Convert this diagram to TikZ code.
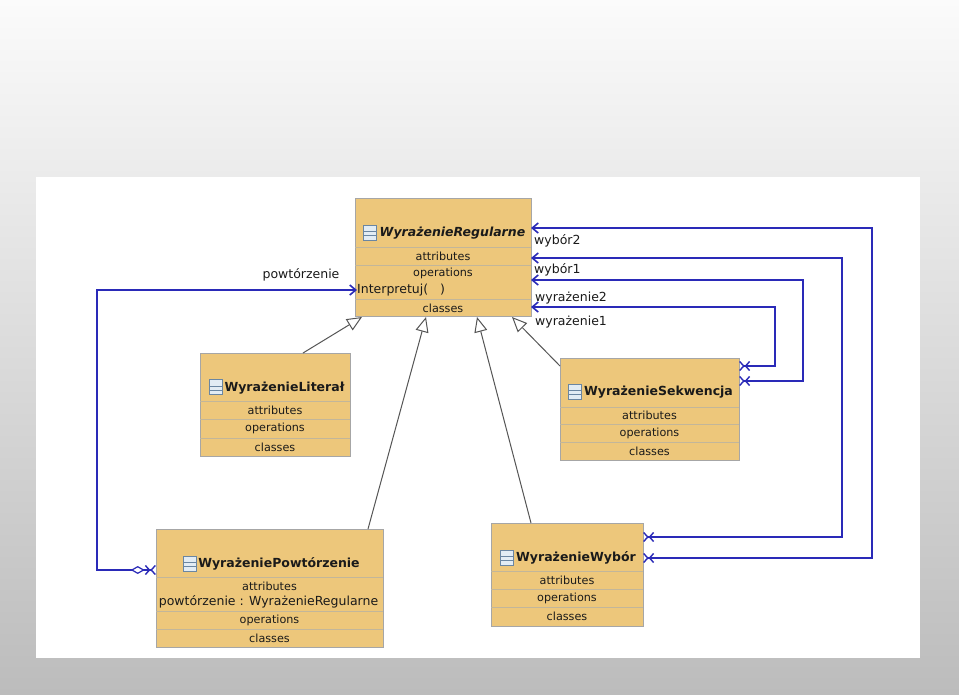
\documentclass[tikz,border=0pt]{standalone}
\usepackage{fontspec}
\setmainfont{DejaVu Sans}
\usetikzlibrary{arrows.meta,calc}
\definecolor{bgtop}{HTML}{FBFBFB}
\definecolor{bgbot}{HTML}{BCBCBC}
\definecolor{boxfill}{HTML}{EDC77B}
\definecolor{boxline}{HTML}{A6A6A6}
\definecolor{sepcol}{HTML}{C2B69A}
\definecolor{assocblue}{HTML}{2A2AB8}
\definecolor{genline}{HTML}{555555}
\definecolor{txt}{HTML}{1A1A1A}
\definecolor{icoline}{HTML}{6A86A2}
\definecolor{icofill}{HTML}{E2ECF4}
\newcommand{\cmpfont}{\fontsize{11.2}{12}\selectfont}
\newcommand{\memfont}{\fontsize{12.5}{14}\selectfont}
\newcommand{\nmfont}{\fontsize{12.5}{14}\selectfont\bfseries}
\begin{document}
\begin{tikzpicture}[x=1pt,y=-1pt,
  cls/.style={draw=boxline, fill=boxfill, line width=0.8pt, inner sep=0pt, rectangle},
  sepl/.style={draw=sepcol, line width=0.8pt},
  cmp/.style={font=\cmpfont, text=txt, inner sep=0pt},
  mem/.style={font=\memfont, text=txt, inner sep=0pt},
  nm/.style={font=\nmfont, text=txt, inner sep=0pt},
  lbl/.style={font=\memfont, text=txt, inner sep=0pt},
  ico/.style={draw=icoline, fill=icofill, line width=0.7pt, minimum width=13pt, minimum height=15pt, inner sep=0pt,
    path picture={
      \draw[icoline, line width=0.6pt] ($(path picture bounding box.south west)!0.30!(path picture bounding box.north west)$) -- ($(path picture bounding box.south east)!0.30!(path picture bounding box.north east)$);
      \draw[icoline, line width=0.6pt] ($(path picture bounding box.south west)!0.55!(path picture bounding box.north west)$) -- ($(path picture bounding box.south east)!0.55!(path picture bounding box.north east)$);
    }},
  assoc/.style={draw=assocblue, line width=1.3pt},
  gen/.style={draw=genline, line width=1pt, -{Triangle[fill=white,length=15pt,width=13pt,line width=1pt]}},
  xtip/.tip={Straight Barb[length=4pt,width=9pt,line width=1.4pt] Straight Barb[reversed,length=4pt,width=9pt,line width=1.4pt]},
  navtip/.tip={Straight Barb[length=6pt,width=10pt,line width=1.6pt]}
]
\useasboundingbox (0,0) rectangle (959,694);
\shade[top color=bgtop, bottom color=bgbot] (0,0) rectangle (959,694);
\fill[white] (36,177) rectangle (920,658);

% ---------- WyrazenieRegularne ----------
\node[cls, minimum width=176pt, minimum height=118pt] (reg) at (443,257.5) {};
\draw[sepl] (355,247) -- (531,247);
\draw[sepl] (355,265) -- (531,265);
\draw[sepl] (355,299) -- (531,299);
\node[ico] (regi) at (370,232.5) {};
\node[nm, font=\nmfont\itshape] (regn) at (452.5,233) {WyrażenieRegularne};
\node[cmp] (rega) at (443,256) {attributes};
\node[cmp] (rego) at (443,273) {operations};
\node[mem, anchor=west] (interp) at (357,290) {Interpretuj(\ \ \ )};
\node[cmp] (regc) at (443,308) {classes};

% ---------- WyrazenieLiteral ----------
\node[cls, minimum width=150pt, minimum height=103pt] (lit) at (275,404.5) {};
\draw[sepl] (200,401) -- (350,401);
\draw[sepl] (200,419) -- (350,419);
\draw[sepl] (200,438) -- (350,438);
\node[ico] (liti) at (215.5,387) {};
\node[nm] (litn) at (284.5,388) {WyrażenieLiterał};
\node[cmp] (lita) at (275,410) {attributes};
\node[cmp] (lito) at (275,428.5) {operations};
\node[cmp] (litc) at (275,447) {classes};

% ---------- WyrazenieSekwencja ----------
\node[cls, minimum width=179pt, minimum height=102pt] (sek) at (649.5,409) {};
\draw[sepl] (560,407) -- (739,407);
\draw[sepl] (560,424) -- (739,424);
\draw[sepl] (560,442) -- (739,442);
\node[ico] (seki) at (575,391.5) {};
\node[nm] (sekn) at (658.5,392) {WyrażenieSekwencja};
\node[cmp] (seka) at (649.5,415.5) {attributes};
\node[cmp] (seko) at (649.5,433) {operations};
\node[cmp] (sekc) at (649.5,451) {classes};

% ---------- WyrazenieWybor ----------
\node[cls, minimum width=152pt, minimum height=103pt] (wyb) at (567,574.5) {};
\draw[sepl] (491,571) -- (643,571);
\draw[sepl] (491,589) -- (643,589);
\draw[sepl] (491,607) -- (643,607);
\node[ico] (wybi) at (507,557.5) {};
\node[nm] (wybn) at (576,558) {WyrażenieWybór};
\node[cmp] (wyba) at (567,580) {attributes};
\node[cmp] (wybo) at (567,598) {operations};
\node[cmp] (wybc) at (567,616.5) {classes};

% ---------- WyrazeniePowtorzenie ----------
\node[cls, minimum width=227pt, minimum height=118pt] (pow) at (269.5,588) {};
\draw[sepl] (156,577) -- (383,577);
\draw[sepl] (156,611) -- (383,611);
\draw[sepl] (156,629) -- (383,629);
\node[ico] (powi) at (189.5,563.5) {};
\node[nm] (pown) at (279,564) {WyrażeniePowtórzenie};
\node[cmp] (powa) at (269.5,586) {attributes};
\node[mem] (powm) at (268.5,602) {powtórzenie : WyrażenieRegularne};
\node[cmp] (powo) at (269.5,620) {operations};
\node[cmp] (powc) at (269.5,638) {classes};

% ---------- connector end points ----------
\coordinate (r1) at (531,228);
\coordinate (r2) at (531,258);
\coordinate (r3) at (531,280);
\coordinate (r4) at (531,307);
\coordinate (k1) at (872,400);
\coordinate (k2) at (842,400);
\coordinate (k3) at (803,330);
\coordinate (k4) at (775,330);
\coordinate (w1) at (643,558);
\coordinate (w2) at (643,537);
\coordinate (s1) at (739,381);
\coordinate (s2) at (739,366);
\coordinate (lp) at (97,400);
\coordinate (pw) at (156,570);

% associations
\draw[assoc, navtip-xtip] (r1) -| (k1) |- (w1);
\draw[assoc, navtip-xtip] (r2) -| (k2) |- (w2);
\draw[assoc, navtip-xtip] (r3) -| (k3) |- (s1);
\draw[assoc, navtip-xtip] (r4) -| (k4) |- (s2);
\draw[assoc, navtip-{Diamond[fill=white,length=14pt,width=8pt,line width=1.2pt] Straight Barb[length=4pt,width=9pt,line width=1.4pt] Straight Barb[reversed,length=4pt,width=9pt,line width=1.4pt]}] (interp.west) -| (lp) |- (pw);

% association labels
\node[lbl, anchor=west] (lw2) at (534,241) {wybór2};
\node[lbl, anchor=west] (lw1) at (534,270) {wybór1};
\node[lbl, anchor=west] (le2) at (535,298) {wyrażenie2};
\node[lbl, anchor=west] (le1) at (535,322) {wyrażenie1};
\node[lbl] (lp1) at (301,275) {powtórzenie};

% generalizations
\coordinate (g1s) at (303,353);  \coordinate (g1e) at (362,317);
\coordinate (g2s) at (368,529);  \coordinate (g2e) at (426,317);
\coordinate (g3s) at (531,523);  \coordinate (g3e) at (477,317);
\coordinate (g4s) at (560,366);  \coordinate (g4e) at (512,317);
\draw[gen] (g1s) -- (g1e);
\draw[gen] (g2s) -- (g2e);
\draw[gen] (g3s) -- (g3e);
\draw[gen] (g4s) -- (g4e);
\end{tikzpicture}
\end{document}
